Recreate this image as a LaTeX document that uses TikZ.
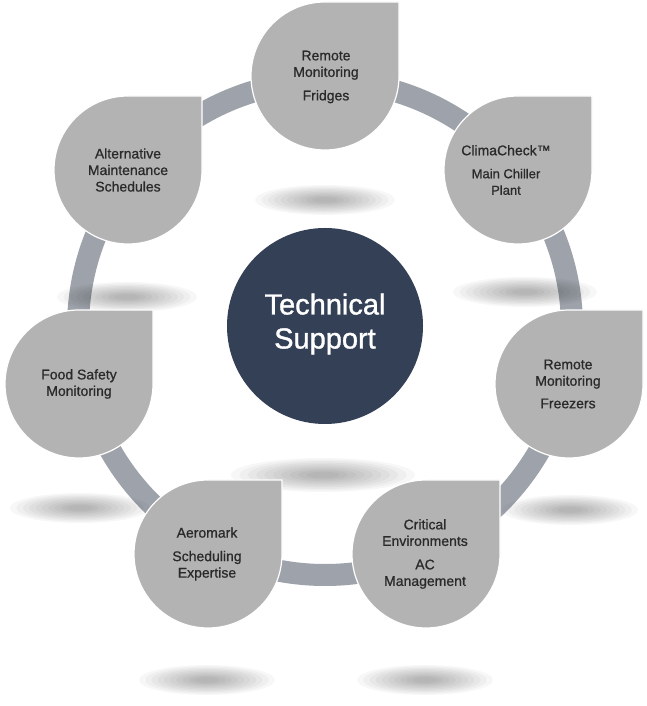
\documentclass[tikz,border=0pt]{standalone}
\usepackage{fontspec}
\setmainfont{Liberation Sans}
\newfontfamily\dropfont[FakeBold=0.8]{Liberation Sans}
\newfontfamily\hubfont[FakeBold=1.2]{Liberation Sans}
\definecolor{ringgray}{RGB}{158,163,171}
\definecolor{dropgray}{RGB}{179,179,179}
\definecolor{navy}{RGB}{52,64,86}
\definecolor{txtgray}{RGB}{42,42,42}
\tikzset{
  dropfill/.style={fill=dropgray, draw=white, line width=1.2pt},
  droptext/.style={align=center, text=txtgray, font=\dropfont\fontsize{14}{16.5}\selectfont, inner sep=0pt},
  titletext/.style={align=center, text=white, font=\hubfont\fontsize{29}{34}\selectfont, inner sep=0pt},
}
\newcommand\dropshape[2]{%
  \path[dropfill] ({#1},{#2+74}) -- ({#1+74},{#2+74}) -- ({#1+74},{#2})
    arc[start angle=0, end angle=-270, radius=74pt] -- cycle;}
\newcommand\softshadow[4]{%
  \foreach \k in {0,...,9}{%
    \fill[black, opacity=0.03] ({#1},{#2}) ellipse ({#3*(1-\k/11)*1pt} and {#4*(1-\k/11)*1pt});}}
\begin{document}
\begin{tikzpicture}[x=1pt,y=1pt]
\useasboundingbox (0,0) rectangle (646,706);
\fill[white] (0,0) rectangle (646,706);
% ring
\draw[ringgray, line width=22pt] (325,378) circle[radius=247pt];
% shadows
\softshadow{325}{506}{70}{15}
\softshadow{525}{414}{72}{15}
\softshadow{127}{409}{70}{15}
\softshadow{80}{198}{70}{15}
\softshadow{323}{231}{92}{17}
\softshadow{570}{196}{68}{15}
\softshadow{207}{26}{68}{15}
\softshadow{425}{26}{68}{15}
% centre
\fill[navy] (325,380) circle[radius=98pt];
\node[titletext] (hub) at (325,382) {Technical\\Support};
% drops
\dropshape{325}{630}
\dropshape{518}{536}
\dropshape{569}{322}
\dropshape{426}{152}
\dropshape{208}{152}
\dropshape{79}{322}
\dropshape{128}{536}
\node[droptext] (fridges) at (326,629) {Remote\\Monitoring\\[7pt]Fridges};
\node[droptext] (clima) at (506,536) {ClimaCheck™\\[6.5pt]{\fontsize{13}{13}\selectfont Main Chiller}\\{\fontsize{13}{13}\selectfont Plant}};
\node[droptext] (freezers) at (568,322) {Remote\\Monitoring\\[6pt]Freezers};
\node[droptext] (critical) at (425,152) {Critical\\Environments\\[7pt]AC\\Management};
\node[droptext] (aeromark) at (207,152) {Aeromark\\[7pt]Scheduling\\Expertise};
\node[droptext] (food) at (79,322) {Food Safety\\Monitoring};
\node[droptext] (alt) at (128,536) {Alternative\\Maintenance\\Schedules};
\end{tikzpicture}
\end{document}
